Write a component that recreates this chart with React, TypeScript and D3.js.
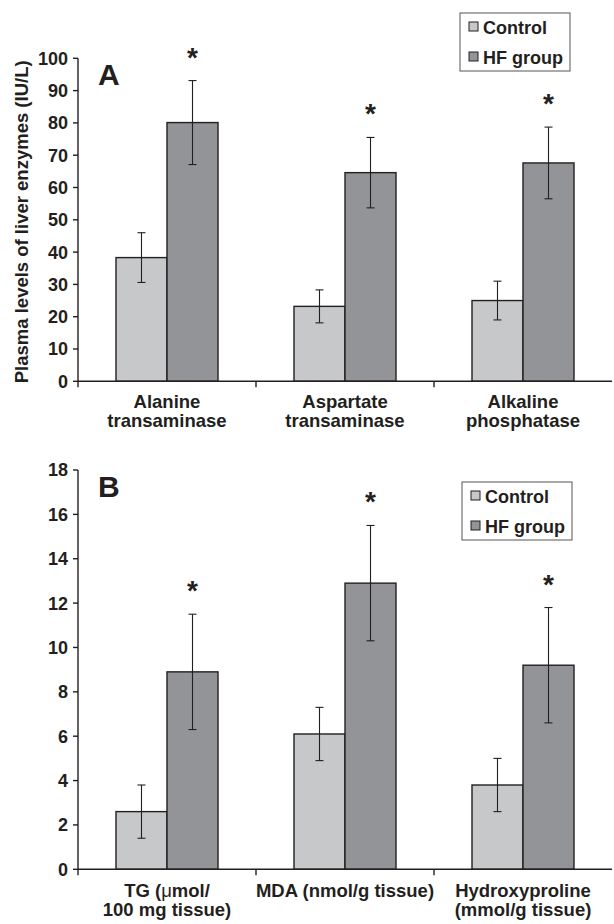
import * as d3 from 'd3'
import React from 'react'

// panel A: plasma liver enzymes (IU/L)
const catsA = [['Alanine', 'transaminase'], ['Aspartate', 'transaminase'], ['Alkaline', 'phosphatase']]
const controlA = [38.3, 23.2, 25.0]
const controlSdA = [7.7, 5.1, 6.0]
const hfA = [80.1, 64.6, 67.6]
const hfSdA = [13.0, 10.9, 11.1]
const ticksA = [0, 10, 20, 30, 40, 50, 60, 70, 80, 90, 100]

// panel B: tissue markers
const catsB = [['TG (μmol/', '100 mg tissue)'], ['MDA (nmol/g tissue)'], ['Hydroxyproline', '(mmol/g tissue)']]
const controlB = [2.6, 6.1, 3.8]
const controlSdB = [1.2, 1.2, 1.2]
const hfB = [8.9, 12.9, 9.2]
const hfSdB = [2.6, 2.6, 2.6]
const ticksB = [0, 2, 4, 6, 8, 10, 12, 14, 16, 18]

const groups = ['Control', 'HF group']
const colors = ['#c7c8ca', '#929497']
const ink = '#231f20'
const font = "'Liberation Sans', Arial, Helvetica, sans-serif"

function Panel({cats, control, controlSd, hf, hfSd, ticks, yBottom, yTop, letter, legend, labelY, title}: any) {
    const left = 78, right = 612
    const y = d3.scaleLinear().domain([0, ticks[ticks.length - 1]]).range([yBottom, yTop])
    const x0 = d3.scaleBand().domain(cats.map((_: any, i: number) => String(i))).range([left, right])
    const x1 = d3.scaleBand().domain(groups).range([0, x0.bandwidth()]).paddingOuter(0.745)
    const series = [
        {name: groups[0], vals: control, sd: controlSd, color: colors[0]},
        {name: groups[1], vals: hf, sd: hfSd, color: colors[1]},
    ]
    const bw = x1.bandwidth()
    return (
        <g fontFamily={font} fontWeight="bold" fill={ink}>
            {series.map(s => s.vals.map((v: number, i: number) => {
                const bx = x0(String(i))! + x1(s.name)!
                return <rect key={s.name + i} x={bx} y={y(v)} width={bw} height={y(0) - y(v)}
                    fill={s.color} stroke={ink} strokeWidth={1.4} />
            }))}
            {series.map(s => s.vals.map((v: number, i: number) => {
                const cx = x0(String(i))! + x1(s.name)! + bw / 2
                const hi = y(v + s.sd[i]), lo = y(v - s.sd[i])
                return (
                    <g key={'e' + s.name + i} stroke={ink} strokeWidth={1.1}>
                        <line x1={cx} x2={cx} y1={hi} y2={lo} />
                        <line x1={cx - 4} x2={cx + 4} y1={hi} y2={hi} />
                        <line x1={cx - 4} x2={cx + 4} y1={lo} y2={lo} />
                    </g>
                )
            }))}
            {hf.map((v: number, i: number) => {
                const cx = x0(String(i))! + x1(groups[1])! + bw / 2
                return <text key={'s' + i} x={cx} y={y(v + hfSd[i]) - 14} textAnchor="middle" fontSize={28}>*</text>
            })}
            {/* axes */}
            <line x1={left} x2={left} y1={yTop} y2={yBottom + 6} stroke={ink} strokeWidth={1.4} />
            <line x1={left} x2={right} y1={yBottom} y2={yBottom} stroke={ink} strokeWidth={1.4} />
            {ticks.map((t: number) => (
                <g key={'t' + t}>
                    <line x1={left - 5} x2={left} y1={y(t)} y2={y(t)} stroke={ink} strokeWidth={1.4} />
                    <text x={left - 10} y={y(t)} dy="0.36em" textAnchor="end" fontSize={18}>{t}</text>
                </g>
            ))}
            {cats.map((_: any, i: number) => i > 0 && (
                <line key={'c' + i} x1={x0(String(i))} x2={x0(String(i))} y1={yBottom} y2={yBottom + 6}
                    stroke={ink} strokeWidth={1.4} />
            ))}
            {cats.map((lines: string[], i: number) => (
                <text key={'l' + i} x={x0(String(i))! + x0.bandwidth() / 2} y={labelY} textAnchor="middle" fontSize={18.5}>
                    {lines.map((ln, j) => {
                        const k = ln.indexOf('μ')
                        return (
                            <tspan key={j} x={x0(String(i))! + x0.bandwidth() / 2} dy={j === 0 ? 0 : 19}>
                                {k < 0 ? ln : <>{ln.slice(0, k)}<tspan fontWeight="normal">μ</tspan>{ln.slice(k + 1)}</>}
                            </tspan>
                        )
                    })}
                </text>
            ))}
            <text x={98} y={yTop + 27} fontSize={30}>{letter}</text>
            {title && (
                <text transform={`translate(28,${(yTop + yBottom) / 2 + 2}) rotate(-90)`} textAnchor="middle" fontSize={18.5}>{title}</text>
            )}
            {/* legend */}
            <g transform={`translate(${legend[0]},${legend[1]})`}>
                <rect x={0} y={0} width={110} height={58} fill="white" stroke="#555" strokeWidth={1} />
                {groups.map((g, i) => (
                    <g key={g}>
                        <rect x={9} y={9 + i * 30} width={9} height={9} fill={colors[i]} stroke={ink} strokeWidth={1} />
                        <text x={23} y={20.5 + i * 30} fontSize={18}>{g}</text>
                    </g>
                ))}
            </g>
        </g>
    )
}

export default function App() {
    return (
        <svg width={614} height={924} style={{position: 'absolute', left: 0, top: 0, background: 'white'}}>
            <Panel cats={catsA} control={controlA} controlSd={controlSdA} hf={hfA} hfSd={hfSdA} ticks={ticksA}
                yBottom={381.3} yTop={58.3} letter="A" legend={[460, 13]} labelY={408}
                title="Plasma levels of liver enzymes (IU/L)" />
            <Panel cats={catsB} control={controlB} controlSd={controlSdB} hf={hfB} hfSd={hfSdB} ticks={ticksB}
                yBottom={869.3} yTop={470} letter="B" legend={[462, 482]} labelY={897} />
        </svg>
    )
}
